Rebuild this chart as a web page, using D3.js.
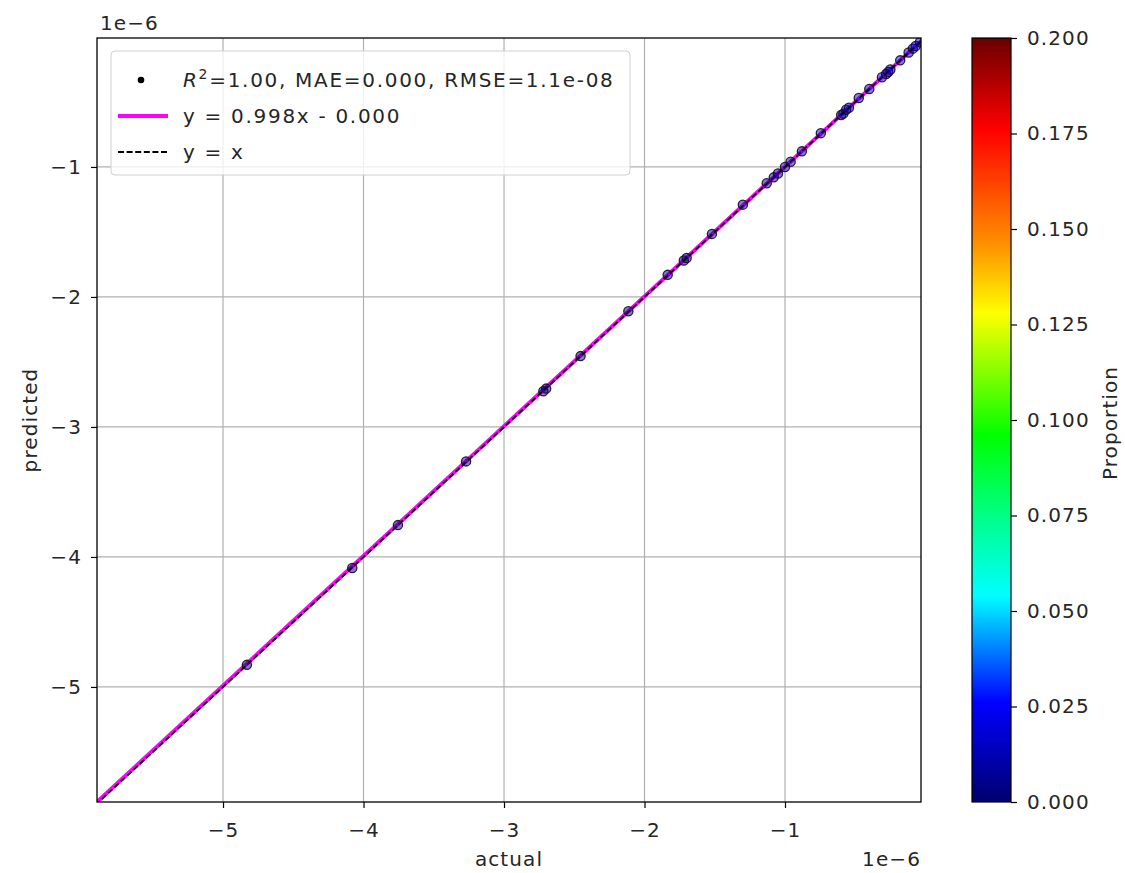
<!DOCTYPE html>
<html>
<head>
<meta charset="utf-8">
<script src="https://cdn.jsdelivr.net/npm/d3@7"></script>
<style>
body { margin: 0; background: #fff; }
text { font-family: "DejaVu Sans", sans-serif; fill: #262626; letter-spacing: 1.1px; }
text.leg { letter-spacing: 1.7px; }
</style>
</head>
<body>
<svg id="chart" width="1125" height="873"></svg>
<script>
// values in units of 1e-6
const actual = [-4.83, -4.08, -3.755, -3.27, -2.72, -2.70, -2.455, -2.115, -1.835, -1.72, -1.70, -1.52, -1.30,
  -1.13, -1.08, -1.05, -1.00, -0.96, -0.88, -0.745, -0.60, -0.585, -0.565, -0.545, -0.475, -0.40, -0.31, -0.28, -0.265, -0.25, -0.18, -0.12, -0.09, -0.07, -0.04];
const predicted = [-4.83, -4.085, -3.755, -3.265, -2.725, -2.705, -2.455, -2.11, -1.83, -1.72, -1.70, -1.515, -1.29,
  -1.125, -1.08, -1.05, -1.00, -0.96, -0.88, -0.74, -0.60, -0.59, -0.56, -0.545, -0.47, -0.40, -0.31, -0.285, -0.27, -0.25, -0.18, -0.12, -0.09, -0.07, -0.04];
const proportion = [0.004, 0.004, 0.005, 0.005, 0.006, 0.006, 0.006, 0.007, 0.008, 0.008, 0.008, 0.009, 0.010,
  0.011, 0.011, 0.012, 0.012, 0.012, 0.013, 0.015, 0.018, 0.018, 0.018, 0.018, 0.02, 0.02, 0.022, 0.022, 0.022, 0.022, 0.024, 0.025, 0.025, 0.026, 0.026];
const xDomain = [-5.897, -0.032];
const yDomain = [-5.885, -0.008];
const axisTicks = [-5, -4, -3, -2, -1];
const cbarTicks = [0.000, 0.025, 0.050, 0.075, 0.100, 0.125, 0.150, 0.175, 0.200];
const fitSlope = 0.998, fitIntercept = 0.0;
const legendLabels = ["=1.00, MAE=0.000, RMSE=1.1e-08", "y = 0.998x - 0.000", "y = x"];
const cmapStops = [0, 0.13, 0.27, 0.38, 0.48, 0.64, 0.73, 0.88, 1];
const cmapColors = ["#00006e", "#0000ff", "#00ffff", "#00ff80", "#00ff00", "#ffff00", "#ff9000", "#ff0000", "#6a0000"];

const cmap = d3.scaleLinear().domain(cmapStops).range(cmapColors).interpolate(d3.interpolateRgb).clamp(true);

const svg = d3.select("#chart");
const L = 97, R = 921, T = 38, B = 802;
const x = d3.scaleLinear().domain(xDomain).range([L, R]);
const y = d3.scaleLinear().domain(yDomain).range([B, T]);
const cval = d3.scaleLinear().domain([0, 0.2]).range([0, 1]);
const fs = 20;

// grid
const grid = svg.append("g");
axisTicks.forEach(t => {
  grid.append("line").attr("x1", x(t)).attr("x2", x(t)).attr("y1", T).attr("y2", B).attr("stroke", "#b0b0b0").attr("stroke-width", 1.2);
  grid.append("line").attr("y1", y(t)).attr("y2", y(t)).attr("x1", L).attr("x2", R).attr("stroke", "#b0b0b0").attr("stroke-width", 1.2);
});

svg.append("clipPath").attr("id", "clip").append("rect").attr("x", L).attr("y", T).attr("width", R-L).attr("height", B-T);
const plot = svg.append("g").attr("clip-path", "url(#clip)");

const lo = Math.min(xDomain[0], yDomain[0]) - 0.1, hi = 0;
// fit line
plot.append("line")
  .attr("x1", x(lo)).attr("y1", y(fitSlope*lo + fitIntercept))
  .attr("x2", x(hi)).attr("y2", y(fitSlope*hi + fitIntercept))
  .attr("stroke", "#ff00ff").attr("stroke-width", 4);

// scatter
plot.selectAll("circle.pt").data(actual.map((a, i) => ({a, p: predicted[i], c: proportion[i]})))
  .join("circle").attr("class", "pt")
  .attr("cx", d => x(d.a)).attr("cy", d => y(d.p)).attr("r", 4.6)
  .attr("fill", d => cmap(cval(d.c))).attr("fill-opacity", 0.5)
  .attr("stroke", "#1a0a2a").attr("stroke-width", 1.3).attr("stroke-opacity", 0.9);

// y = x
plot.append("line")
  .attr("x1", x(lo)).attr("y1", y(lo))
  .attr("x2", x(hi)).attr("y2", y(hi))
  .attr("stroke", "#000").attr("stroke-width", 1.8).attr("stroke-dasharray", "6,2.6");

// frame
svg.append("rect").attr("x", L).attr("y", T).attr("width", R-L).attr("height", B-T)
  .attr("fill", "none").attr("stroke", "#000").attr("stroke-width", 1.3);

// axes
const xAxis = svg.append("g").attr("transform", `translate(0,${B})`)
  .call(d3.axisBottom(x).tickValues(axisTicks).tickSize(6).tickPadding(15).tickFormat(d => "\u2212" + Math.abs(d)));
const yAxis = svg.append("g").attr("transform", `translate(${L},0)`)
  .call(d3.axisLeft(y).tickValues(axisTicks).tickSize(6).tickPadding(9).tickFormat(d => "\u2212" + Math.abs(d)));
[xAxis, yAxis].forEach(a => {
  a.select(".domain").remove();
  a.selectAll("text").attr("font-size", fs).attr("font-family", "DejaVu Sans").attr("fill", "#262626");
  a.selectAll("line").attr("stroke", "#000").attr("stroke-width", 1.2);
});

svg.append("text").attr("x", (L+R)/2).attr("y", 866).attr("text-anchor", "middle").attr("font-size", fs).text("actual");
svg.append("text").attr("transform", `translate(37,${(T+B)/2}) rotate(-90)`).attr("text-anchor", "middle").attr("font-size", fs).text("predicted");
svg.append("text").attr("x", 100).attr("y", 30).attr("font-size", fs).text("1e\u22126");
svg.append("text").attr("x", 921).attr("y", 866).attr("text-anchor", "end").attr("font-size", fs).text("1e\u22126");

// legend
const lg = svg.append("g");
lg.append("rect").attr("x", 111).attr("y", 51).attr("width", 519).attr("height", 124).attr("rx", 4)
  .attr("fill", "#fff").attr("fill-opacity", 0.8).attr("stroke", "#d0d0d0").attr("stroke-width", 1);
lg.append("circle").attr("cx", 141).attr("cy", 80).attr("r", 3.3).attr("fill", "#000");
const t0 = lg.append("text").attr("class", "leg").attr("x", 183).attr("y", 87).attr("font-size", fs);
t0.append("tspan").attr("font-style", "italic").text("R");
t0.append("tspan").attr("font-size", 14).attr("dy", -8).text("2");
t0.append("tspan").attr("dy", 8).text(legendLabels[0]);
lg.append("line").attr("x1", 118).attr("x2", 168).attr("y1", 116).attr("y2", 116).attr("stroke", "#ff00ff").attr("stroke-width", 4);
lg.append("text").attr("class", "leg").attr("x", 183).attr("y", 123).attr("font-size", fs).text(legendLabels[1]);
lg.append("line").attr("x1", 118).attr("x2", 168).attr("y1", 152).attr("y2", 152).attr("stroke", "#000").attr("stroke-width", 1.8).attr("stroke-dasharray", "6,2.6");
lg.append("text").attr("class", "leg").attr("x", 183).attr("y", 159).attr("font-size", fs).text(legendLabels[2]);

// colorbar
const CL = 972, CR = 1011;
const cy = d3.scaleLinear().domain([0, 0.2]).range([B, T]);
const grad = svg.append("defs").append("linearGradient").attr("id", "cgrad")
  .attr("x1", 0).attr("x2", 0).attr("y1", 1).attr("y2", 0);
d3.range(0, 1.0001, 0.01).forEach(s => grad.append("stop").attr("offset", s).attr("stop-color", cmap(s)));
svg.append("rect").attr("x", CL).attr("y", T).attr("width", CR-CL).attr("height", B-T)
  .attr("fill", "url(#cgrad)").attr("stroke", "#000").attr("stroke-width", 1.2);
const cax = svg.append("g").attr("transform", `translate(${CR},0)`)
  .call(d3.axisRight(cy).tickValues(cbarTicks).tickSize(6).tickPadding(10).tickFormat(d3.format(".3f")));
cax.select(".domain").remove();
cax.selectAll("text").attr("font-size", fs).attr("font-family", "DejaVu Sans").attr("fill", "#262626");
cax.selectAll("line").attr("stroke", "#000").attr("stroke-width", 1.2);
svg.append("text").attr("transform", `translate(1117,${(T+B)/2 + 3}) rotate(-90)`).attr("text-anchor", "middle").attr("font-size", fs).text("Proportion");
</script>
</body>
</html>
